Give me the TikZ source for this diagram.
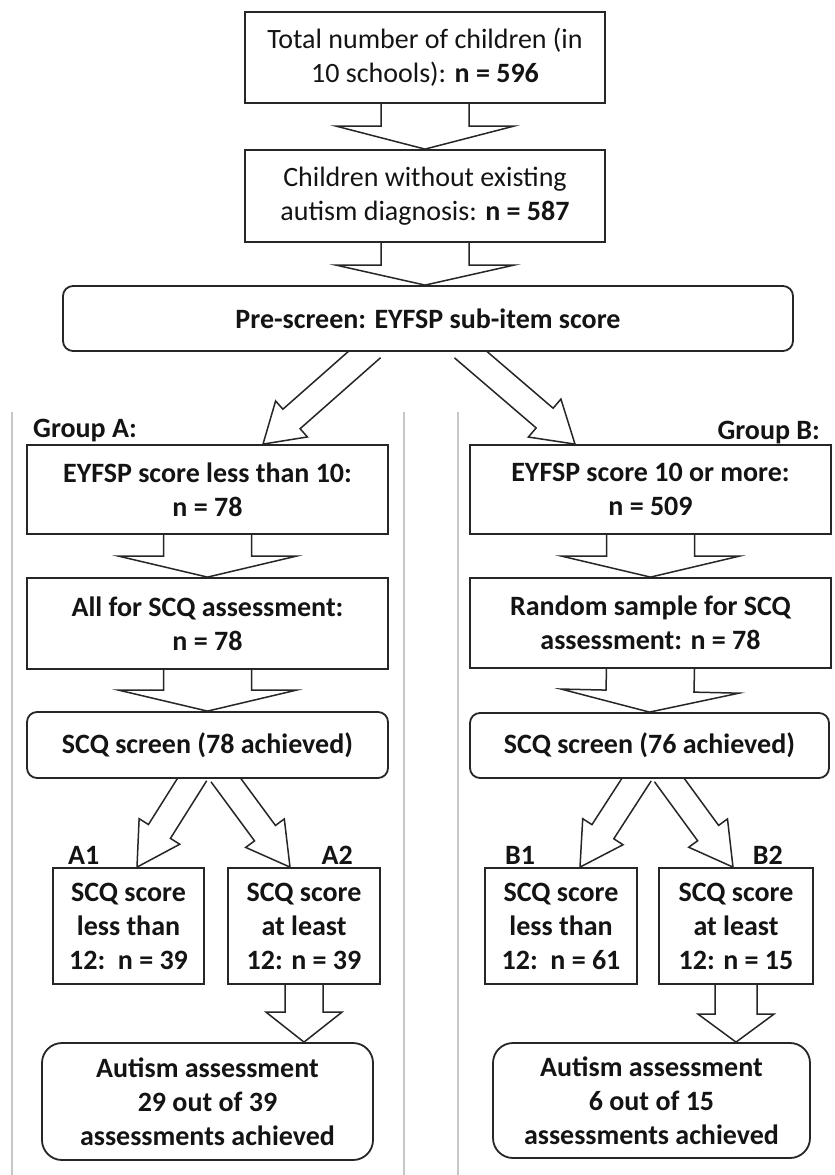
\documentclass[tikz,border=0pt]{standalone}
\usepackage{fontspec}
\setmainfont{Carlito}
\usetikzlibrary{calc}
\pgfdeclarelayer{bg}
\pgfsetlayers{bg,main}
\newcommand\blockarr[5]{%
 \path[arr] let \p1=(#1), \p2=(#2),
   \n1={atan2(\y2-\y1,\x2-\x1)},
   \n2={veclen(\x2-\x1,\y2-\y1)-#5} in
   ($(\p1)+(\n1:-6pt)+(\n1+90:#3)$)
   -- ($(\p1)+(\n1:\n2)+(\n1+90:#3)$)
   -- ($(\p1)+(\n1:\n2)+(\n1+90:#4)$)
   -- (\p2)
   -- ($(\p1)+(\n1:\n2)+(\n1-90:#4)$)
   -- ($(\p1)+(\n1:\n2)+(\n1-90:#3)$)
   -- ($(\p1)+(\n1:-6pt)+(\n1-90:#3)$);
}
\tikzset{
  box/.style={draw=black!85, line width=1.8pt, fill=white, align=center, inner sep=0pt,
    text=black!92, font=\fontsize{28}{34}\selectfont},
  bbox/.style={box, font=\fontsize{28}{34}\selectfont\bfseries},
  rbox/.style={bbox, rounded corners=10pt},
  abox/.style={bbox, rounded corners=20pt},
  arr/.style={draw=black!85, line width=1.5pt, fill=white, line join=miter},
  sep/.style={draw=black!22, line width=2pt},
  lab/.style={font=\fontsize{28}{34}\selectfont\bfseries, inner sep=0pt, text=black!92}
}
\begin{document}
\begin{tikzpicture}[x=1pt,y=-1pt]
\useasboundingbox (0,0) rectangle (835,1175);
\begin{pgfonlayer}{bg}
\fill[white] (0,0) rectangle (835,1175);
\draw[sep] (12,412) -- (12,1175);
\draw[sep] (404,412) -- (404,1175);
\draw[sep] (458,412) -- (458,1175);
\end{pgfonlayer}

% top
\node[box, minimum width=360pt, minimum height=91pt] (tot) at (425,57.5)
  {Total number of children (in\\10 schools): \textbf{n = 596}};
\node[box, minimum width=360pt, minimum height=92pt] (nod) at (425,196)
  {Children without existing\\autism diagnosis: \textbf{n = 587}};
\node[rbox, minimum width=730pt, minimum height=65pt] (pre) at (428,318.5)
  {Pre-screen: EYFSP sub-item score};

% group labels
\node[lab, anchor=base west] (gA) at (33,437) {Group A:};
\node[lab, anchor=base east] (gB) at (820,439) {Group B:};

% group A column
\node[bbox, minimum width=361pt, minimum height=89pt] (a1) at (207.5,489.5)
  {EYFSP score less than 10:\\n = 78};
\node[bbox, minimum width=361pt, minimum height=91pt] (a2) at (207.5,623.5)
  {All for SCQ assessment:\\n = 78};
\node[rbox, minimum width=361pt, minimum height=66pt] (a3) at (207.5,745)
  {SCQ screen (78 achieved)};

% group B column
\node[bbox, minimum width=361pt, minimum height=89pt] (b1) at (650.5,489.5)
  {EYFSP score 10 or more:\\n = 509};
\node[bbox, minimum width=361pt, minimum height=90pt] (b2) at (650.5,623)
  {Random sample for SCQ\\assessment: n = 78};
\node[rbox, minimum width=359pt, minimum height=65pt] (b3) at (649.5,745.5)
  {SCQ screen (76 achieved)};

% SCQ outcome boxes
\node[bbox, minimum width=151pt, minimum height=116pt] (sa1) at (128.5,926)
  {SCQ score\\less than\\12:\ \ n = 39};
\node[bbox, minimum width=152pt, minimum height=116pt] (sa2) at (304,926)
  {SCQ score\\at least\\12: n = 39};
\node[bbox, minimum width=152pt, minimum height=116pt] (sb1) at (561,926)
  {SCQ score\\less than\\12:\ \ n = 61};
\node[bbox, minimum width=154pt, minimum height=116pt] (sb2) at (736,926)
  {SCQ score\\at least\\12: n = 15};

\node[lab, anchor=base west] (lA1) at (68,864) {A1};
\node[lab, anchor=base east] (lA2) at (353,864) {A2};
\node[lab, anchor=base west] (lB1) at (505,864) {B1};
\node[lab, anchor=base east] (lB2) at (783,864) {B2};

% autism assessment
\node[abox, minimum width=331pt, minimum height=117pt] (autA) at (207.5,1101.5)
  {Autism assessment\\29 out of 39\\assessments achieved};
\node[abox, minimum width=317pt, minimum height=115pt] (autB) at (651.5,1100.5)
  {Autism assessment\\6 out of 15\\assessments achieved};

% connector end points
\coordinate (preT) at (nod.south |- pre.north);
\coordinate (preA) at ($(pre.south)+(-60.5,0)$);
\coordinate (a1T)  at ($(a1.north)+(55.5,0)$);
\coordinate (preB) at ($(pre.south)+(39.5,0)$);
\coordinate (b1T)  at ($(b1.north)+(-75.5,0)$);
\coordinate (a3L)  at ($(a3.south)+(-15,0)$);
\coordinate (a3R)  at ($(a3.south)+(17.5,0)$);
\coordinate (sa1T) at ($(sa1.north)+(8.5,0)$);
\coordinate (sa2T) at ($(sa2.north)+(-14,0)$);
\coordinate (b3L)  at ($(b3.south)+(-12.5,0)$);
\coordinate (b3R)  at ($(b3.south)+(19,0)$);
\coordinate (sb1T) at ($(sb1.north)+(19,0)$);
\coordinate (sb2T) at ($(sb2.north)+(-3,0)$);
\coordinate (autAT) at (sa2.south |- autA.north);
\coordinate (autBT) at (sb2.south |- autB.north);

\begin{pgfonlayer}{bg}
\blockarr{tot.south}{nod.north}{44pt}{89pt}{23pt}
\blockarr{nod.south}{preT}{44pt}{89pt}{20pt}
\blockarr{a1.south}{a2.north}{44pt}{89pt}{21pt}
\blockarr{a2.south}{a3.north}{44pt}{89pt}{21pt}
\blockarr{b1.south}{b2.north}{44pt}{89pt}{21pt}
\blockarr{b2.south}{b3.north}{44pt}{89pt}{21pt}
\blockarr{preA}{a1T}{13pt}{24pt}{38pt}
\blockarr{preB}{b1T}{13pt}{25pt}{40pt}
\blockarr{a3L}{sa1T}{13pt}{24pt}{42pt}
\blockarr{a3R}{sa2T}{13pt}{24pt}{42pt}
\blockarr{b3L}{sb1T}{13pt}{24pt}{42pt}
\blockarr{b3R}{sb2T}{13pt}{24pt}{42pt}
\blockarr{sa2.south}{autAT}{19pt}{38pt}{30pt}
\blockarr{sb2.south}{autBT}{21pt}{38pt}{28pt}
\end{pgfonlayer}
\end{tikzpicture}
\end{document}
